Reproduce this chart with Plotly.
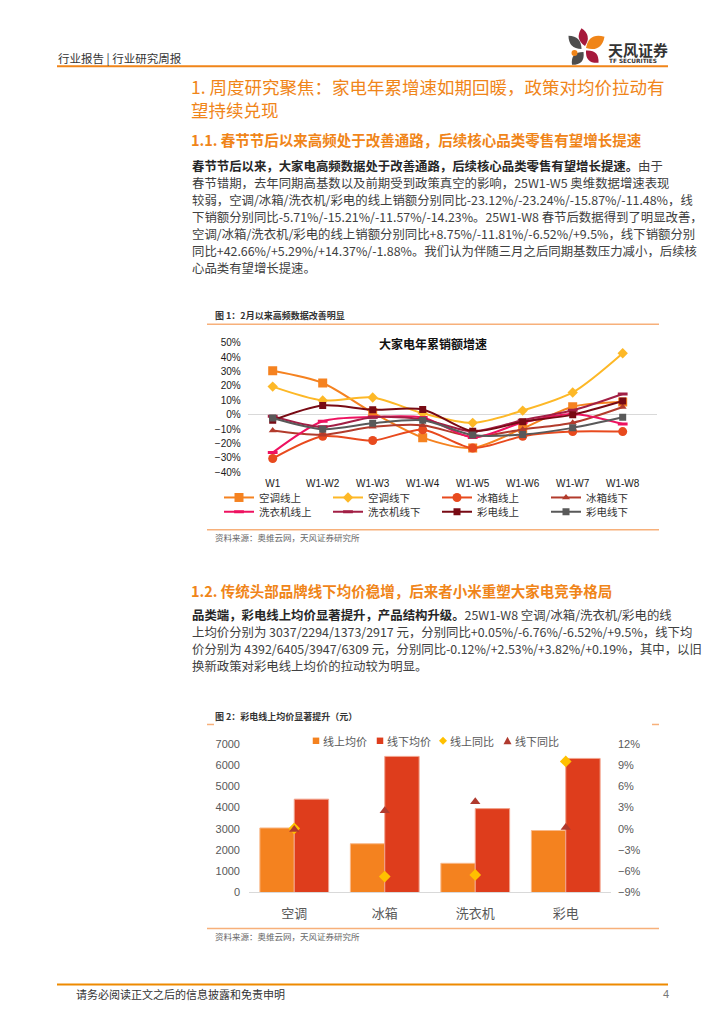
import plotly.graph_objects as go

W, H = 724, 1024
def px(x): return x / W
def py(y): return 1 - y / H

# ---------------- data: chart 1 ----------------
weeks = ["W1", "W1-W2", "W1-W3", "W1-W4", "W1-W5", "W1-W6", "W1-W7", "W1-W8"]
ac_online = [30.5, 22, 1.4, -16, -23.12, -9.6, 5.5, 8.75]
ac_offline = [19.5, 9.9, 11.9, 1, -5.71, 2.8, 15.4, 42.66]
fr_online = [-30.5, -15, -18, -10.5, -23.24, -15, -11.8, -11.81]
fr_offline = [-11, -14, -8.5, -7.3, -15.21, -10.3, -5.7, 5.29]
wa_online = [-26.4, -4.6, -1.6, -2, -15.87, -5.5, 0.5, -6.52]
wa_offline = [-1.1, -8.5, -1.8, -3.2, -11.57, -3.9, 3, 14.37]
tv_online = [-3.9, 6.4, 3.4, 3.6, -11.48, -5, 0, 9.5]
tv_offline = [-2.3, -10.1, -6, -3.9, -14.23, -13.8, -9.2, -1.88]

series1 = [
    ("空调线上", ac_online, "#F58220", "square", 9),
    ("空调线下", ac_offline, "#FDB827", "diamond", 8),
    ("冰箱线上", fr_online, "#E84A1E", "circle", 9),
    ("冰箱线下", fr_offline, "#B23B2C", "triangle-up", 7),
    ("洗衣机线上", wa_online, "#EE1260", "line-ew", 7),
    ("洗衣机线下", wa_offline, "#A21F45", "line-ew", 7),
    ("彩电线上", tv_online, "#780A14", "square", 7),
    ("彩电线下", tv_offline, "#595959", "square", 7),
]

# ---------------- data: chart 2 ----------------
cats = ["空调", "冰箱", "洗衣机", "彩电"]
online_price = [3037, 2294, 1373, 2917]
offline_price = [4392, 6405, 3947, 6309]
online_yoy = [0.05, -6.76, -6.52, 9.5]
offline_yoy = [-0.12, 2.53, 3.82, 0.19]

ORANGE = "#F08519"
LIGHT_OR = "#F7B07A"
CJK = "Noto Sans CJK SC"
LAT = "Liberation Sans, Noto Sans CJK SC"

fig = go.Figure()

for i, (name, vals, col, sym, sz) in enumerate(series1):
    mk = dict(symbol=sym, size=sz, color=col)
    if sym == "line-ew":
        mk = dict(symbol=sym, size=sz, line=dict(color=col, width=3), color=col)
    fig.add_trace(go.Scatter(
        x=weeks, y=vals, name=name, mode="lines+markers",
        line=dict(color=col, width=2, shape="spline", smoothing=0.8),
        marker=mk, xaxis="x", yaxis="y",
        legend="legend" if i < 4 else "legend2",
    ))

fig.add_trace(go.Bar(x=cats, y=online_price, name="线上均价", xaxis="x2", yaxis="y2",
                     marker=dict(color="#F4821F", line=dict(color="#F9B98A", width=1)),
                     showlegend=False))
fig.add_trace(go.Bar(x=cats, y=offline_price, name="线下均价", xaxis="x2", yaxis="y2",
                     marker=dict(color="#DE3D1C", line=dict(color="#F2A38C", width=1)),
                     showlegend=False))
fig.add_trace(go.Scatter(x=cats, y=online_yoy, name="线上同比", mode="markers", xaxis="x2", yaxis="y3",
                         marker=dict(symbol="diamond", size=9, color="#FFC000"), showlegend=False))
fig.add_trace(go.Scatter(x=cats, y=offline_yoy, name="线下同比", mode="markers", xaxis="x2", yaxis="y3",
                         marker=dict(symbol="triangle-up", size=9, color="#B03A2E"), showlegend=False))

ann = []
def txt(x, y, s, size, color="#404040", anchor="left", family=CJK, yanchor="middle", height=None,
        align="left"):
    a = dict(x=px(x), y=py(y), xref="paper", yref="paper", text=s, showarrow=False,
             xanchor=anchor, yanchor=yanchor, borderpad=0, align=align,
             font=dict(size=size, color=color, family=family))
    if height is not None:
        a["height"] = height
    ann.append(a)

# header
txt(57, 52.5, "行业报告 | 行业研究周报", 11.5, "#333333")
txt(607, 44.5, "<b>天风证券</b>", 15, "#333333")
txt(607.5, 56, "<b>TF SECURITIES</b>", 5.8, "#333333", family="DejaVu Sans", height=8)

# titles
txt(190, 93.3, "1. 周度研究聚焦：家电年累增速如期回暖，政策对均价拉动有<br>望持续兑现", 17.5, ORANGE)
txt(190, 135, "<b>1.1. 春节节后以来高频处于改善通路，后续核心品类零售有望增长提速</b>", 14.5, ORANGE)
txt(190, 591, "<b>1.2. 传统头部品牌线下均价稳增，后来者小米重塑大家电竞争格局</b>", 14.5, ORANGE)

para1 = [
    "<b><span style='color:#262626'>春节节后以来，大家电高频数据处于改善通路，后续核心品类零售有望增长提速。</span></b>由于",
    "春节错期，去年同期高基数以及前期受到政策真空的影响，25W1-W5 奥维数据增速表现",
    "较弱，空调/冰箱/洗衣机/彩电的线上销额分别同比-23.12%/-23.24%/-15.87%/-11.48%，线",
    "下销额分别同比-5.71%/-15.21%/-11.57%/-14.23%。25W1-W8 春节后数据得到了明显改善，",
    "空调/冰箱/洗衣机/彩电的线上销额分别同比+8.75%/-11.81%/-6.52%/+9.5%，线下销额分别",
    "同比+42.66%/+5.29%/+14.37%/-1.88%。我们认为伴随三月之后同期基数压力减小，后续核",
    "心品类有望增长提速。",
]
for k, s in enumerate(para1):
    txt(190.5, 161.5 + k * 17.2, s, 12.4, height=16)

para2 = [
    "<b><span style='color:#262626'>品类端，彩电线上均价显著提升，产品结构升级。</span></b>25W1-W8 空调/冰箱/洗衣机/彩电的线",
    "上均价分别为 3037/2294/1373/2917 元，分别同比+0.05%/-6.76%/-6.52%/+9.5%，线下均",
    "价分别为 4392/6405/3947/6309 元，分别同比-0.12%/+2.53%/+3.82%/+0.19%，其中，以旧",
    "换新政策对彩电线上均价的拉动较为明显。",
]
for k, s in enumerate(para2):
    txt(190.5, 616.7 + k * 17.2, s, 12.4, height=16)

# chart 1 frame texts
txt(214, 313.5, "<b>图 1：2月以来高频数据改善明显</b>", 9, "#333333")
txt(433, 342, "<b>大家电年累销额增速</b>", 12, "#111111", anchor="center")
txt(214, 537, "资料来源：奥维云网，天风证券研究所", 8.5, "#666666")

# chart 2 frame texts
txt(214, 719, "<b>图 2：彩电线上均价显著提升（元）</b>", 9, "#333333")
txt(214, 941, "资料来源：奥维云网，天风证券研究所", 8.5, "#666666")
leg2 = [("线上均价", 322), ("线下均价", 386), ("线上同比", 449), ("线下同比", 513.5)]
for name, x in leg2:
    txt(x, 743.5, name, 11, "#595959")

# footer
txt(75, 1000, "请务必阅读正文之后的信息披露和免责申明", 11, "#333333")
txt(670, 1000, "4", 11, "#777777", anchor="right", family=LAT)

shapes = []
def hline(x0, x1, y, color, w):
    shapes.append(dict(type="line", xref="paper", yref="paper", x0=px(x0), x1=px(x1),
                       y0=py(y), y1=py(y), line=dict(color=color, width=w)))

hline(57, 668, 61, ORANGE, 2)
hline(57, 668, 990, "#EE8A00", 2)
hline(207, 659, 322, LIGHT_OR, 1.5)
hline(207, 659, 530, LIGHT_OR, 1.5)
hline(207, 214, 727, LIGHT_OR, 1.5)
hline(652, 659, 727, LIGHT_OR, 1.5)
hline(207, 659, 933.5, LIGHT_OR, 1.5)

def lens(x1, y1, x2, y2, w, color):
    mx, my = (x1 + x2) / 2, (y1 + y2) / 2
    dx, dy = x2 - x1, y2 - y1
    L = (dx * dx + dy * dy) ** 0.5
    nx, ny = -dy / L, dx / L
    c1 = (mx + nx * w, my + ny * w)
    c2 = (mx - nx * w, my - ny * w)
    p = "M %f %f Q %f %f %f %f Q %f %f %f %f Z" % (
        px(x1), py(y1), px(c1[0]), py(c1[1]), px(x2), py(y2),
        px(c2[0]), py(c2[1]), px(x1), py(y1))
    shapes.append(dict(type="path", xref="paper", yref="paper", path=p,
                       fillcolor=color, line=dict(width=0)))

# logo
lens(581.5, 22.5, 585, 40.5, 9, "#A6193C")
lens(568.5, 30, 581.5, 43.5, 9, "#4D4D4D")
lens(586, 42.5, 604.5, 31, 12, ORANGE)
lens(572, 59.5, 583.5, 46.5, 10, "#4D4D4D")
lens(586, 45, 598.5, 57.5, 10, "#A6193C")
shapes.append(dict(type="circle", xref="paper", yref="paper", x0=px(571.5), x1=px(577.5),
                   y0=py(50.5), y1=py(44.5), fillcolor=ORANGE, line=dict(width=0)))

# chart 2 legend symbols
def rect(cx, cy, s, color):
    shapes.append(dict(type="rect", xref="paper", yref="paper", x0=px(cx - s / 2), x1=px(cx + s / 2),
                       y0=py(cy + s / 2), y1=py(cy - s / 2), fillcolor=color, line=dict(width=0)))
rect(316, 743.5, 6.5, "#F4821F")
rect(380, 743.5, 6.5, "#DE3D1C")
d = 4
shapes.append(dict(type="path", xref="paper", yref="paper",
                   path="M %f %f L %f %f L %f %f L %f %f Z" % (
                       px(443), py(743.5 - d), px(443 + d), py(743.5), px(443), py(743.5 + d), px(443 - d), py(743.5)),
                   fillcolor="#FFC000", line=dict(width=0)))
shapes.append(dict(type="path", xref="paper", yref="paper",
                   path="M %f %f L %f %f L %f %f Z" % (
                       px(507.5), py(739.5), px(511.5), py(747), px(503.5), py(747)),
                   fillcolor="#B03A2E", line=dict(width=0)))

legend_common = dict(orientation="h", xanchor="left", yanchor="middle", bgcolor="rgba(0,0,0,0)",
                     font=dict(family=CJK, size=10.5, color="#333333"),
                     entrywidth=64, entrywidthmode="pixels", itemwidth=30, traceorder="normal")

fig.update_layout(
    width=W, height=H, margin=dict(l=0, r=0, t=0, b=0),
    paper_bgcolor="white", plot_bgcolor="white",
    showlegend=True,
    legend=dict(x=px(219), y=py(497.3), **legend_common),
    legend2=dict(x=px(219), y=py(511.7), **legend_common),
    barmode="group", bargap=0.24, bargroupgap=0,
    annotations=ann, shapes=shapes,
    xaxis=dict(domain=[px(247.7), px(656.7)], range=[-0.5, 7.68], type="category", anchor="y",
               showline=False, showgrid=False, zeroline=False, ticks="",
               tickfont=dict(family=LAT, size=10, color="#1a1a1a"), ticklabelstandoff=4),
    yaxis=dict(domain=[py(471.7), py(340.7)], range=[-40, 50], dtick=10, ticksuffix="%", anchor="x",
               showgrid=False, zeroline=True, zerolinecolor="#D9D9D9", zerolinewidth=1,
               showline=False, ticks="", tickfont=dict(family=LAT, size=10, color="#1a1a1a"),
               ticklabelstandoff=6),
    xaxis2=dict(domain=[px(249), px(611)], range=[-0.5, 3.5], type="category", anchor="y2",
                showline=True, linecolor="#D9D9D9", linewidth=1, showgrid=False, zeroline=False, ticks="",
                tickfont=dict(family=CJK, size=13, color="#595959"), ticklabelstandoff=9),
    yaxis2=dict(domain=[py(897), py(746.5)], range=[0, 7000], dtick=1000, anchor="x2",
                showgrid=False, zeroline=False, showline=False, ticks="",
                tickfont=dict(family=LAT, size=11, color="#595959"), ticklabelstandoff=8),
    yaxis3=dict(overlaying="y2", side="right", range=[-9, 12], dtick=3, ticksuffix="%", anchor="x2",
                showgrid=False, zeroline=False, showline=False, ticks="",
                tickfont=dict(family=LAT, size=11, color="#595959"), ticklabelstandoff=6),
)

fig.write_html("out.html", config={"displayModeBar": False},
               post_script="document.body.style.margin='0';document.body.style.overflow='hidden';")
